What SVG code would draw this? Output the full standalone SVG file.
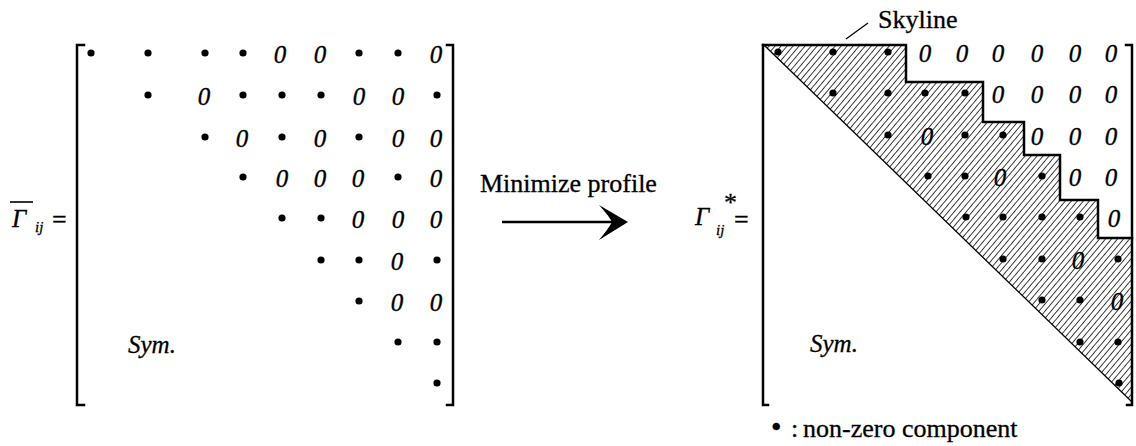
<svg xmlns="http://www.w3.org/2000/svg" width="1136" height="446" viewBox="0 0 1136 446">
<style>
.z{font-family:'Liberation Serif','DejaVu Serif',serif;font-style:italic;font-size:25px;text-anchor:middle;fill:#000;stroke:#000;stroke-width:0.35}
.t{font-family:'Liberation Serif','DejaVu Serif',serif;font-size:26px;fill:#000;stroke:#000;stroke-width:0.3}
.it{font-family:'Liberation Serif','DejaVu Serif',serif;font-style:italic;fill:#000;stroke:#000;stroke-width:0.3}
.br{fill:none;stroke:#000;stroke-width:2.5;stroke-linecap:square}
.d circle{fill:#000}
</style>
<defs>
<pattern id="hatch" patternUnits="userSpaceOnUse" width="4.6" height="10" patternTransform="rotate(40)">
<line x1="2.3" y1="-1" x2="2.3" y2="11" stroke="#222" stroke-width="0.9"/>
</pattern>
</defs>
<rect width="1136" height="446" fill="#fff"/>

<g id="left-label">
<line x1="10" y1="202" x2="33" y2="202" stroke="#000" stroke-width="1.6"/>
<text class="it" x="12" y="227" font-size="25" font-family="Liberation Serif">Γ</text>
<text class="it" x="35" y="232" font-size="15">ij</text>
<text class="t" x="52" y="228" font-size="24">=</text>
</g>

<g id="left-matrix">
<path class="br" d="M84,45 H77 V405 H84"/>
<path class="br" d="M447,45 H453 V405 H447"/>
<g class="d">
<circle cx="91" cy="53" r="3.6"/><circle cx="148" cy="53" r="3.6"/><circle cx="205" cy="53" r="3.6"/><circle cx="243" cy="53" r="3.6"/><circle cx="359" cy="53" r="3.6"/><circle cx="398" cy="53" r="3.6"/>
<circle cx="148" cy="95" r="3.6"/><circle cx="243" cy="95" r="3.6"/><circle cx="282" cy="95" r="3.6"/><circle cx="321" cy="95" r="3.6"/><circle cx="437" cy="95" r="3.6"/>
<circle cx="205" cy="137" r="3.6"/><circle cx="282" cy="137" r="3.6"/><circle cx="359" cy="137" r="3.6"/>
<circle cx="243" cy="177" r="3.6"/><circle cx="398" cy="177" r="3.6"/>
<circle cx="282" cy="218" r="3.6"/><circle cx="321" cy="218" r="3.6"/>
<circle cx="321" cy="260" r="3.6"/><circle cx="359" cy="260" r="3.6"/><circle cx="437" cy="260" r="3.6"/>
<circle cx="359" cy="301" r="3.6"/>
<circle cx="398" cy="342" r="3.6"/><circle cx="437" cy="342" r="3.6"/>
<circle cx="437" cy="383" r="3.6"/>
</g>
<text class="z" x="280" y="63">0</text><text class="z" x="320" y="63">0</text><text class="z" x="436" y="63">0</text>
<text class="z" x="204" y="105">0</text><text class="z" x="359" y="105">0</text><text class="z" x="398" y="105">0</text>
<text class="z" x="242" y="147">0</text><text class="z" x="320" y="147">0</text><text class="z" x="398" y="147">0</text><text class="z" x="436" y="147">0</text>
<text class="z" x="282" y="187">0</text><text class="z" x="320" y="187">0</text><text class="z" x="358" y="187">0</text><text class="z" x="436" y="187">0</text>
<text class="z" x="358" y="228">0</text><text class="z" x="398" y="228">0</text><text class="z" x="436" y="228">0</text>
<text class="z" x="397" y="270">0</text>
<text class="z" x="397" y="311">0</text><text class="z" x="436" y="311">0</text>
<text class="it" x="128" y="353" font-size="25">Sym.</text>
</g>

<g id="connectors">
<line x1="502" y1="222" x2="616" y2="222" stroke="#000" stroke-width="2.5"/>
<path d="M628,222 L599,205 Q609,216 612,222 Q609,228 599,240 Z" fill="#000"/>
<line x1="846" y1="39" x2="868" y2="23" stroke="#000" stroke-width="1.2"/>
</g>

<g id="arrow-label">
<text class="t" x="480" y="192">Minimize profile</text>
</g>

<g id="right-label">
<text class="it" x="695" y="225" font-size="25">Γ</text>
<text class="it" x="716" y="235" font-size="15">ij</text>
<text class="t" x="724" y="211" font-size="15">*</text>
<text class="t" x="734" y="228" font-size="27">=</text>
</g>

<g id="right-matrix">
<polygon points="764,45 906,45 906,82 983,82 983,122 1024,122 1024,155 1060,155 1060,200 1098,200 1098,238 1132,238 1132,402" fill="url(#hatch)"/>
<line x1="764" y1="45" x2="1132" y2="402" stroke="#000" stroke-width="1.3"/>
<path class="br" d="M763,45 H906 V82 H983 V122 H1024 V155 H1060 V200 H1098 V238 H1132"/>
<path class="br" d="M768,405 H763 V45"/>
<path class="br" d="M1126,45 H1132 V405 H1127"/>
<g class="d">
<circle cx="778" cy="52" r="3.6"/><circle cx="833" cy="52" r="3.6"/><circle cx="888" cy="52" r="3.6"/>
<circle cx="833" cy="93" r="3.6"/><circle cx="888" cy="93" r="3.6"/><circle cx="925" cy="93" r="3.6"/><circle cx="965" cy="93" r="3.6"/>
<circle cx="888" cy="135" r="3.6"/><circle cx="965" cy="135" r="3.6"/><circle cx="1003" cy="135" r="3.6"/>
<circle cx="928" cy="176" r="3.6"/><circle cx="965" cy="176" r="3.6"/><circle cx="1042" cy="176" r="3.6"/>
<circle cx="966" cy="217" r="3.6"/><circle cx="1003" cy="217" r="3.6"/><circle cx="1042" cy="217" r="3.6"/><circle cx="1080" cy="217" r="3.6"/>
<circle cx="1003" cy="259" r="3.6"/><circle cx="1042" cy="259" r="3.6"/><circle cx="1118" cy="259" r="3.6"/>
<circle cx="1042" cy="300" r="3.6"/><circle cx="1080" cy="300" r="3.6"/>
<circle cx="1080" cy="342" r="3.6"/><circle cx="1118" cy="342" r="3.6"/>
<circle cx="1119" cy="383" r="3.6"/>
</g>
<text class="z" x="925" y="62">0</text><text class="z" x="962" y="62">0</text><text class="z" x="998" y="62">0</text><text class="z" x="1037" y="62">0</text><text class="z" x="1075" y="62">0</text><text class="z" x="1111" y="62">0</text>
<text class="z" x="998" y="103">0</text><text class="z" x="1037" y="103">0</text><text class="z" x="1075" y="103">0</text><text class="z" x="1111" y="103">0</text>
<text class="z" x="927" y="145">0</text><text class="z" x="1037" y="145">0</text><text class="z" x="1075" y="145">0</text><text class="z" x="1111" y="145">0</text>
<text class="z" x="1000" y="186">0</text><text class="z" x="1075" y="186">0</text><text class="z" x="1111" y="186">0</text>
<text class="z" x="1114" y="227">0</text>
<text class="z" x="1078" y="269">0</text>
<text class="z" x="1117" y="310">0</text>
<text class="it" x="810" y="352" font-size="25">Sym.</text>
</g>

<g id="skyline-label">
<text class="t" x="878" y="28">Skyline</text>
</g>

<g id="legend">
<text class="t" y="437" font-size="27"><tspan x="771" font-size="30">•</tspan><tspan x="791">:</tspan><tspan x="803">non-zero component</tspan></text>
</g>
</svg>
